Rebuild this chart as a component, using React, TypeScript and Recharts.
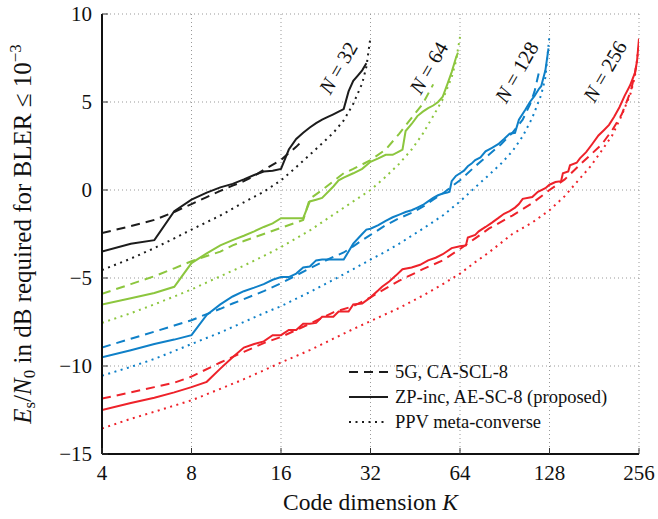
import { LineChart, Line, XAxis, YAxis, CartesianGrid, ReferenceDot, Legend } from 'recharts';

type Pt = [number, number];

const kTicks = [4, 8, 16, 32, 64, 128, 256];
const dbTicks = [-15, -10, -5, 0, 5, 10];

// N = 32
const cascl32: Pt[] = [[4, -2.45], [5, -2.05], [6, -1.7], [7, -1.25], [8, -0.8], [9, -0.4], [10, -0.05], [11, 0.25], [12, 0.5], [13, 0.8], [14, 1.15], [16, 1.7], [17, 2.1], [18, 2.45], [19, 2.85]];
const zp32: Pt[] = [[4, -3.5], [5, -3.05], [6, -2.85], [7, -1.2], [8, -0.55], [9, -0.15], [10, 0.15], [11, 0.35], [12, 0.6], [13, 0.85], [14, 1.05], [15, 1.1], [16, 1.2], [17, 2.3], [18, 2.9], [19, 3.25], [20, 3.55], [21, 3.8], [22, 4.0], [23, 4.15], [24, 4.3], [25, 4.45], [26, 4.6], [27, 5.6], [28, 6.2], [29, 6.5], [30, 6.8], [31, 7.2]];
const ppv32: Pt[] = [[4, -4.55], [5, -3.9], [6, -3.3], [7, -2.75], [8, -2.25], [10, -1.45], [12, -0.7], [14, -0.1], [16, 0.55], [18, 1.3], [20, 2.0], [22, 2.65], [24, 3.25], [26, 3.95], [28, 4.9], [30, 6.05], [31, 7.0], [32, 8.7]];

// N = 64
const cascl64: Pt[] = [[4, -5.9], [5, -5.35], [6, -4.9], [7, -4.45], [8, -4.05], [9, -3.75], [10, -3.5], [11, -3.15], [12, -2.9], [14, -2.5], [16, -2.15], [18, -1.85], [19, -1.7], [20, -0.5], [22, 0.0], [24, 0.5], [26, 0.95], [28, 1.2], [30, 1.45], [32, 1.7], [36, 2.3], [40, 3.2], [44, 4.1], [48, 4.9], [52, 6.0]];
const zp64: Pt[] = [[4, -6.5], [5, -6.15], [6, -5.85], [7, -5.5], [8, -4.15], [9, -3.6], [10, -3.15], [11, -2.85], [12, -2.6], [13, -2.35], [14, -2.1], [15, -1.9], [16, -1.6], [17, -1.6], [18, -1.6], [19, -1.6], [20, -0.65], [21, -0.55], [22, -0.45], [24, 0.2], [25, 0.55], [26, 0.7], [28, 0.95], [30, 1.2], [32, 1.6], [34, 1.8], [36, 2.0], [38, 2.0], [40, 2.2], [41, 2.3], [42, 3.35], [44, 3.75], [46, 4.2], [48, 4.45], [50, 4.65], [52, 4.8], [54, 5.0], [56, 5.3], [58, 6.0], [60, 6.7], [62, 7.5], [63, 7.8]];
const ppv64: Pt[] = [[4, -7.55], [5, -7.0], [6, -6.5], [7, -6.05], [8, -5.65], [10, -4.9], [12, -4.3], [14, -3.75], [16, -3.25], [18, -2.75], [20, -2.3], [24, -1.4], [28, -0.65], [32, 0.0], [36, 0.75], [40, 1.5], [44, 2.3], [48, 3.2], [52, 4.2], [56, 5.15], [60, 6.4], [62, 7.3], [64, 8.7]];

// N = 128
const cascl128: Pt[] = [[4, -8.95], [5, -8.45], [6, -8.05], [7, -7.7], [8, -7.4], [9, -7.05], [10, -6.75], [11, -6.45], [12, -6.2], [14, -5.75], [16, -5.3], [18, -4.85], [20, -4.45], [22, -4.1], [24, -3.8], [26, -3.55], [28, -3.2], [30, -2.85], [32, -2.55], [36, -2.0], [40, -1.6], [44, -1.3], [48, -0.95], [52, -0.55], [56, -0.2], [60, 0.2], [64, 0.55], [72, 1.35], [80, 2.0], [88, 2.6], [96, 3.25], [104, 4.0], [110, 4.85], [114, 5.6], [118, 6.7]];
const zp128: Pt[] = [[4, -9.5], [5, -9.1], [6, -8.75], [7, -8.5], [8, -8.25], [9, -7.1], [10, -6.5], [11, -6.05], [12, -5.75], [13, -5.55], [14, -5.35], [15, -5.1], [16, -4.95], [17, -4.95], [18, -4.75], [19, -4.4], [20, -4.35], [21, -4.0], [22, -3.95], [24, -3.95], [26, -3.95], [27, -3.5], [28, -3.05], [30, -2.5], [31, -2.25], [32, -2.2], [34, -2.0], [36, -1.75], [38, -1.55], [40, -1.4], [42, -1.25], [44, -1.15], [46, -1.0], [48, -0.85], [50, -0.65], [52, -0.45], [54, -0.3], [56, -0.2], [58, -0.15], [59, -0.1], [60, 0.5], [62, 0.8], [64, 0.95], [66, 1.1], [68, 1.35], [70, 1.5], [72, 1.7], [75, 1.85], [78, 2.2], [82, 2.4], [86, 2.6], [90, 2.9], [94, 3.2], [98, 3.25], [101, 4.0], [106, 4.55], [110, 5.0], [114, 5.35], [118, 5.75], [120, 5.9], [124, 6.8], [127, 8.05]];
const ppv128: Pt[] = [[4, -10.55], [5, -10.05], [6, -9.6], [7, -9.15], [8, -8.75], [10, -8.1], [12, -7.5], [14, -7.0], [16, -6.6], [20, -5.8], [24, -5.1], [28, -4.5], [32, -3.95], [36, -3.5], [40, -3.05], [48, -2.2], [56, -1.45], [64, -0.65], [72, 0.15], [80, 0.85], [88, 1.5], [96, 2.2], [104, 3.05], [112, 4.1], [120, 5.4], [124, 6.4], [128, 8.8]];

// N = 256
const cascl256: Pt[] = [[4, -11.85], [5, -11.5], [6, -11.2], [7, -10.95], [8, -10.6], [10, -9.8], [12, -9.2], [14, -8.7], [16, -8.35], [20, -7.6], [24, -6.95], [28, -6.6], [32, -6.1], [40, -5.15], [48, -4.5], [56, -4.0], [64, -3.35], [72, -2.75], [80, -2.2], [96, -1.45], [112, -0.75], [128, 0.0], [144, 0.6], [160, 1.35], [176, 2.0], [192, 2.6], [208, 3.4], [224, 4.3], [240, 5.6], [248, 6.6], [252, 7.3]];
const zp256: Pt[] = [[4, -12.5], [5, -12.1], [6, -11.8], [7, -11.5], [8, -11.2], [9, -10.9], [10, -10.15], [11, -9.5], [12, -8.95], [13, -8.75], [14, -8.6], [15, -8.25], [16, -8.25], [17, -7.95], [18, -7.95], [19, -7.6], [20, -7.6], [21, -7.55], [22, -7.2], [24, -7.2], [25, -6.9], [27, -6.9], [28, -6.5], [30, -6.45], [32, -6.1], [34, -5.7], [35, -5.5], [37, -5.2], [39, -4.85], [41, -4.5], [44, -4.4], [47, -4.25], [50, -4.0], [53, -3.85], [56, -3.65], [60, -3.3], [64, -3.2], [67, -3.15], [68, -2.7], [72, -2.55], [74, -2.35], [78, -2.1], [82, -1.85], [86, -1.6], [90, -1.35], [94, -1.2], [98, -1.0], [101, -0.8], [104, -0.5], [112, -0.4], [117, -0.1], [124, 0.1], [128, 0.3], [134, 0.45], [140, 0.5], [142, 0.95], [148, 1.05], [150, 1.4], [158, 1.55], [162, 1.8], [170, 2.15], [178, 2.6], [187, 3.1], [195, 3.4], [203, 3.7], [211, 4.15], [220, 4.7], [229, 5.35], [239, 5.95], [248, 6.65], [252, 7.3], [256, 8.6]];
const ppv256: Pt[] = [[4, -13.55], [5, -13.0], [6, -12.6], [7, -12.25], [8, -11.95], [10, -11.3], [12, -10.75], [14, -10.25], [16, -9.8], [20, -9.1], [24, -8.45], [28, -7.9], [32, -7.45], [40, -6.7], [48, -6.0], [56, -5.35], [64, -4.75], [72, -4.1], [80, -3.55], [96, -2.5], [112, -1.85], [128, -1.15], [144, -0.35], [160, 0.55], [176, 1.35], [192, 2.25], [208, 3.1], [224, 4.25], [240, 5.5], [248, 6.45], [256, 8.3]];

const BLACK = '#1c1c1c';
const GREEN = '#8cc63e';
const BLUE = '#0f80c8';
const RED = '#ee222a';

const DASH = '9 6';
const DOT = '2 4.5';
const FONT = '"Liberation Serif", "Times New Roman", serif';

const series = [
  { id: 'cascl32', pts: cascl32, color: BLACK, dash: DASH },
  { id: 'zp32', pts: zp32, color: BLACK, dash: undefined },
  { id: 'ppv32', pts: ppv32, color: BLACK, dash: DOT },
  { id: 'cascl64', pts: cascl64, color: GREEN, dash: DASH },
  { id: 'zp64', pts: zp64, color: GREEN, dash: undefined },
  { id: 'ppv64', pts: ppv64, color: GREEN, dash: DOT },
  { id: 'cascl128', pts: cascl128, color: BLUE, dash: DASH },
  { id: 'zp128', pts: zp128, color: BLUE, dash: undefined },
  { id: 'ppv128', pts: ppv128, color: BLUE, dash: DOT },
  { id: 'cascl256', pts: cascl256, color: RED, dash: DASH },
  { id: 'zp256', pts: zp256, color: RED, dash: undefined },
  { id: 'ppv256', pts: ppv256, color: RED, dash: DOT },
];

// where the rotated "N = ..." notes sit, in data units
const nNotes = [
  { n: '32', k: 24.9, db: 6.95 },
  { n: '64', k: 50.2, db: 6.95 },
  { n: '128', k: 99.2, db: 6.7 },
  { n: '256', k: 196.5, db: 6.75 },
];

const legendRows = [
  { label: '5G, CA-SCL-8', dash: DASH },
  { label: 'ZP-inc, AE-SC-8 (proposed)', dash: undefined },
  { label: 'PPV meta-converse', dash: DOT },
];

const toRows = (pts: Pt[]) => pts.map(([k, db]) => ({ k, db }));
const fmtDb = (v: number) => (v < 0 ? `\u2212${-v}` : `${v}`);

const BottomTick = ({ x, y, payload }: any) => (
  <g>
    <line x1={x} x2={x} y1={y} y2={y - 6} stroke="#333" strokeWidth={1} />
    <text x={x} y={y + 26} textAnchor="middle" fontSize={21} fontFamily={FONT} fill="#111">
      {payload.value}
    </text>
  </g>
);

const LeftTick = ({ x, y, payload }: any) => (
  <g>
    <line x1={x} x2={x + 6} y1={y} y2={y} stroke="#333" strokeWidth={1} />
    <text x={x - 10} y={y} dy="0.35em" textAnchor="end" fontSize={21} fontFamily={FONT} fill="#111">
      {fmtDb(payload.value)}
    </text>
  </g>
);

const TopTick = ({ x, y }: any) => <line x1={x} x2={x} y1={y} y2={y + 6} stroke="#333" strokeWidth={1} />;
const RightTick = ({ x, y }: any) => <line x1={x - 6} x2={x} y1={y} y2={y} stroke="#333" strokeWidth={1} />;

const XTitle = ({ viewBox }: any) => (
  <text x={viewBox.x + viewBox.width / 2} y={viewBox.y + 56} textAnchor="middle" fontSize={23.5} fontFamily={FONT} fill="#111">
    Code dimension <tspan fontStyle="italic">K</tspan>
  </text>
);

const YTitle = ({ viewBox }: any) => {
  const cx = viewBox.x - 11;
  const cy = viewBox.y + viewBox.height / 2;
  return (
    <text transform={`translate(${cx},${cy}) rotate(-90)`} textAnchor="middle" fontSize={25} fontFamily={FONT} fill="#111">
      <tspan fontStyle="italic">E</tspan>
      <tspan fontSize={17} dy={4}>s</tspan>
      <tspan dy={-4}>/</tspan>
      <tspan fontStyle="italic">N</tspan>
      <tspan fontSize={17} dy={4}>0</tspan>
      <tspan dy={-4}> in dB required for BLER ≤ 10</tspan>
      <tspan fontSize={17} dy={-10}>{'\u22123'}</tspan>
    </text>
  );
};

const noteLabel = (n: string) => ({ viewBox }: any) => {
  const cx = viewBox.x + viewBox.width / 2;
  const cy = viewBox.y + viewBox.height / 2;
  return (
    <text transform={`translate(${cx},${cy}) rotate(-60)`} textAnchor="middle" dy="0.35em" fontSize={20.5} fontFamily={FONT} fill="#111">
      <tspan fontStyle="italic">N</tspan>
      {` = ${n}`}
    </text>
  );
};

const LegendBox = () => (
  <svg width={290} height={80}>
    {legendRows.map((r, i) => (
      <g key={r.label} transform={`translate(0,${14 + i * 25})`}>
        <line x1={4} x2={43} y1={0} y2={0} stroke={BLACK} strokeWidth={2} strokeDasharray={r.dash} />
        <text x={50} y={0} dy="0.35em" fontSize={18.5} fontFamily={FONT} fill="#111">
          {r.label}
        </text>
      </g>
    ))}
  </svg>
);

export default function App() {
  return (
    <>
      <style>{'body{margin:0}'}</style>
      <LineChart width={658} height={519} margin={{ top: 14, right: 19, bottom: 35, left: 42 }}>
        <CartesianGrid stroke="#999" strokeDasharray="1 3" />
        <XAxis
          dataKey="k"
          type="number"
          scale="log"
          domain={[4, 256]}
          ticks={kTicks}
          interval={0}
          allowDataOverflow
          height={30}
          tickSize={0}
          tickMargin={0}
          tick={BottomTick}
          axisLine={{ stroke: '#111', strokeWidth: 2 }}
          label={XTitle}
        />
        <XAxis
          xAxisId="top"
          orientation="top"
          dataKey="k"
          type="number"
          scale="log"
          domain={[4, 256]}
          ticks={kTicks}
          interval={0}
          allowDataOverflow
          height={0}
          tickSize={0}
          tickMargin={0}
          tick={TopTick}
          axisLine={{ stroke: '#111', strokeWidth: 2 }}
        />
        <YAxis
          type="number"
          domain={[-15, 10]}
          ticks={dbTicks}
          interval={0}
          allowDataOverflow
          width={60}
          tickSize={0}
          tickMargin={0}
          tick={LeftTick}
          axisLine={{ stroke: '#111', strokeWidth: 2 }}
          label={YTitle}
        />
        <YAxis
          yAxisId="right"
          orientation="right"
          type="number"
          domain={[-15, 10]}
          ticks={dbTicks}
          interval={0}
          allowDataOverflow
          width={0}
          tickSize={0}
          tickMargin={0}
          tick={RightTick}
          axisLine={{ stroke: '#111', strokeWidth: 2 }}
        />
        {series.map((s) => (
          <Line
            key={s.id}
            data={toRows(s.pts)}
            dataKey="db"
            type="linear"
            stroke={s.color}
            strokeWidth={2}
            strokeDasharray={s.dash}
            dot={false}
            activeDot={false}
            isAnimationActive={false}
          />
        ))}
        {nNotes.map((t) => (
          <ReferenceDot key={t.n} x={t.k} y={t.db} r={1} fill="none" stroke="none" ifOverflow="visible" label={noteLabel(t.n)} />
        ))}
        <Legend
          layout="vertical"
          align="center"
          verticalAlign="middle"
          content={LegendBox}
          wrapperStyle={{ left: 345, top: 358, width: 290, height: 80 }}
        />
      </LineChart>
    </>
  );
}
